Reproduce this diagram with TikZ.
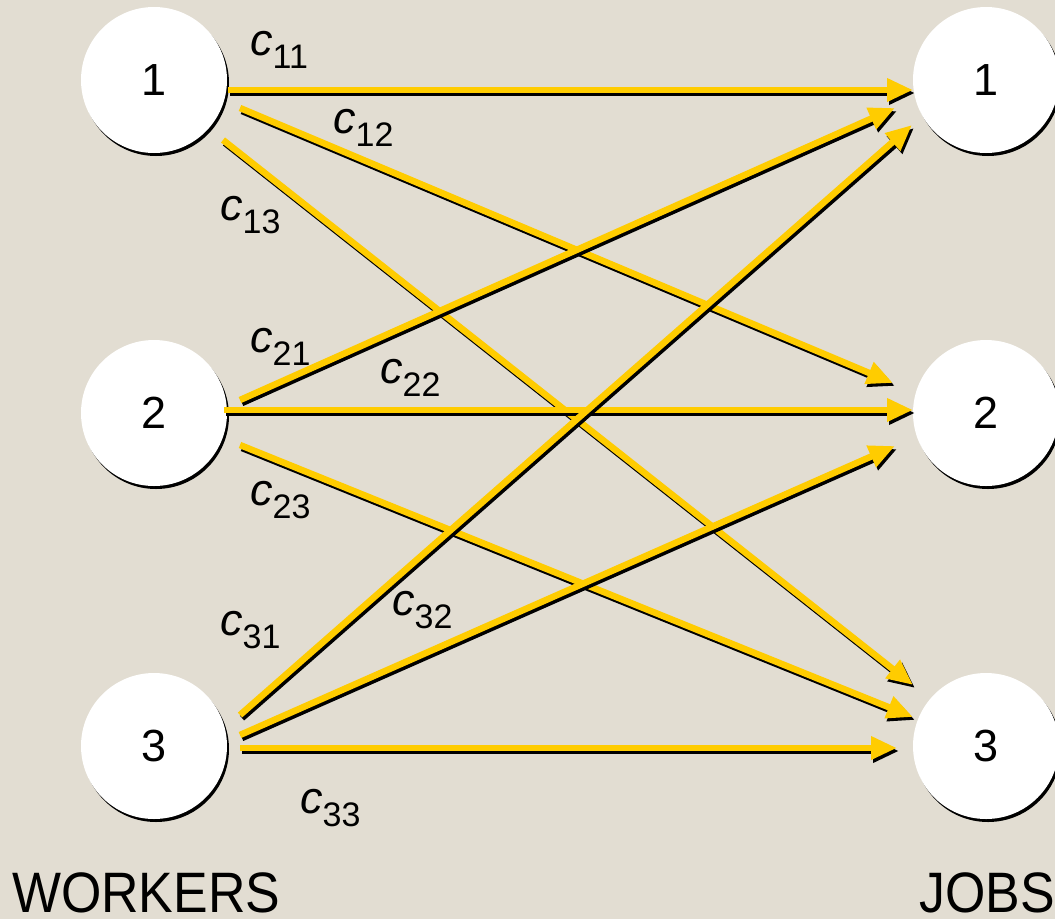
\documentclass[tikz,border=0pt]{standalone}
\usepackage{fontspec}
\setmainfont{Liberation Sans}
\usetikzlibrary{arrows.meta}
\definecolor{bg}{RGB}{226,221,210}
\definecolor{arr}{RGB}{255,204,0}
\newcommand\clab[2]{{\fontsize{45}{45}\selectfont\itshape c}\raisebox{-13pt}{\fontsize{34}{34}\selectfont #2}}
\begin{document}
\begin{tikzpicture}[x=1pt,y=-1pt,
  circ/.style={circle, fill=white, minimum size=146pt, inner sep=0pt, font=\fontsize{45}{45}\selectfont},
  circshadow/.style={circle, fill=black, minimum size=146pt, inner sep=0pt},
  arrowline/.style={draw=arr, line width=6.5pt, -{Triangle[length=26pt,width=22pt]}},
  arrowshadow/.style={draw=black, line width=6.5pt, -{Triangle[length=26pt,width=22pt]}, transform canvas={shift={(2pt,-3pt)}}},
  lab/.style={anchor=base west, inner sep=0pt},
  title/.style={inner sep=0pt, font=\fontsize{57}{57}\selectfont}]
\fill[bg] (0,0) rectangle (1055,919);
\useasboundingbox (0,0) rectangle (1055,919);
\clip (0,0) rectangle (1055,919);
% shadows of circles
\foreach \y in {80,413,746}{
  \node[circshadow] at (156,\y+3) {};
  \node[circshadow] at (988,\y+3) {};
}
\node[circ] (w1) at (154,80) {1};
\node[circ] (w2) at (154,413) {2};
\node[circ] (w3) at (154,746) {3};
\node[circ] (j1) at (986,80) {1};
\node[circ] (j2) at (986,413) {2};
\node[circ] (j3) at (986,746) {3};
% arrow ends
\coordinate (s11) at (228,90);  \coordinate (e11) at (913,90);
\coordinate (s12) at (240,108); \coordinate (e12) at (893,383);
\coordinate (s13) at (223,140); \coordinate (e13) at (913,685);
\coordinate (s21) at (240,400); \coordinate (e21) at (895,108);
\coordinate (s22) at (224,410); \coordinate (e22) at (913,410);
\coordinate (s23) at (240,445); \coordinate (e23) at (913,717);
\coordinate (s31) at (240,715); \coordinate (e31) at (912,125);
\coordinate (s32) at (240,735); \coordinate (e32) at (895,446);
\coordinate (s33) at (240,748); \coordinate (e33) at (897,748);
\foreach \a in {11,12,13,21,22,23,31,32,33}{
  \draw[arrowshadow] (s\a) -- (e\a);
  \draw[arrowline] (s\a) -- (e\a);
}
% labels
\node[lab] (l11) at (250,55) {\clab{c}{11}};
\node[lab] (l12) at (333,133) {\clab{c}{12}};
\node[lab] (l13) at (220,220) {\clab{c}{13}};
\node[lab] (l21) at (250,352) {\clab{c}{21}};
\node[lab] (l22) at (380,383) {\clab{c}{22}};
\node[lab] (l23) at (250,505) {\clab{c}{23}};
\node[lab] (l31) at (220,635) {\clab{c}{31}};
\node[lab] (l32) at (392,615) {\clab{c}{32}};
\node[lab] (l33) at (300,813) {\clab{c}{33}};
\node[title, anchor=base west] (workers) at (12,912) {\scalebox{0.91}[1]{WORKERS}};
\node[title, anchor=base east] (jobs) at (1055,912) {\scalebox{0.91}[1]{JOBS}};
\end{tikzpicture}
\end{document}
